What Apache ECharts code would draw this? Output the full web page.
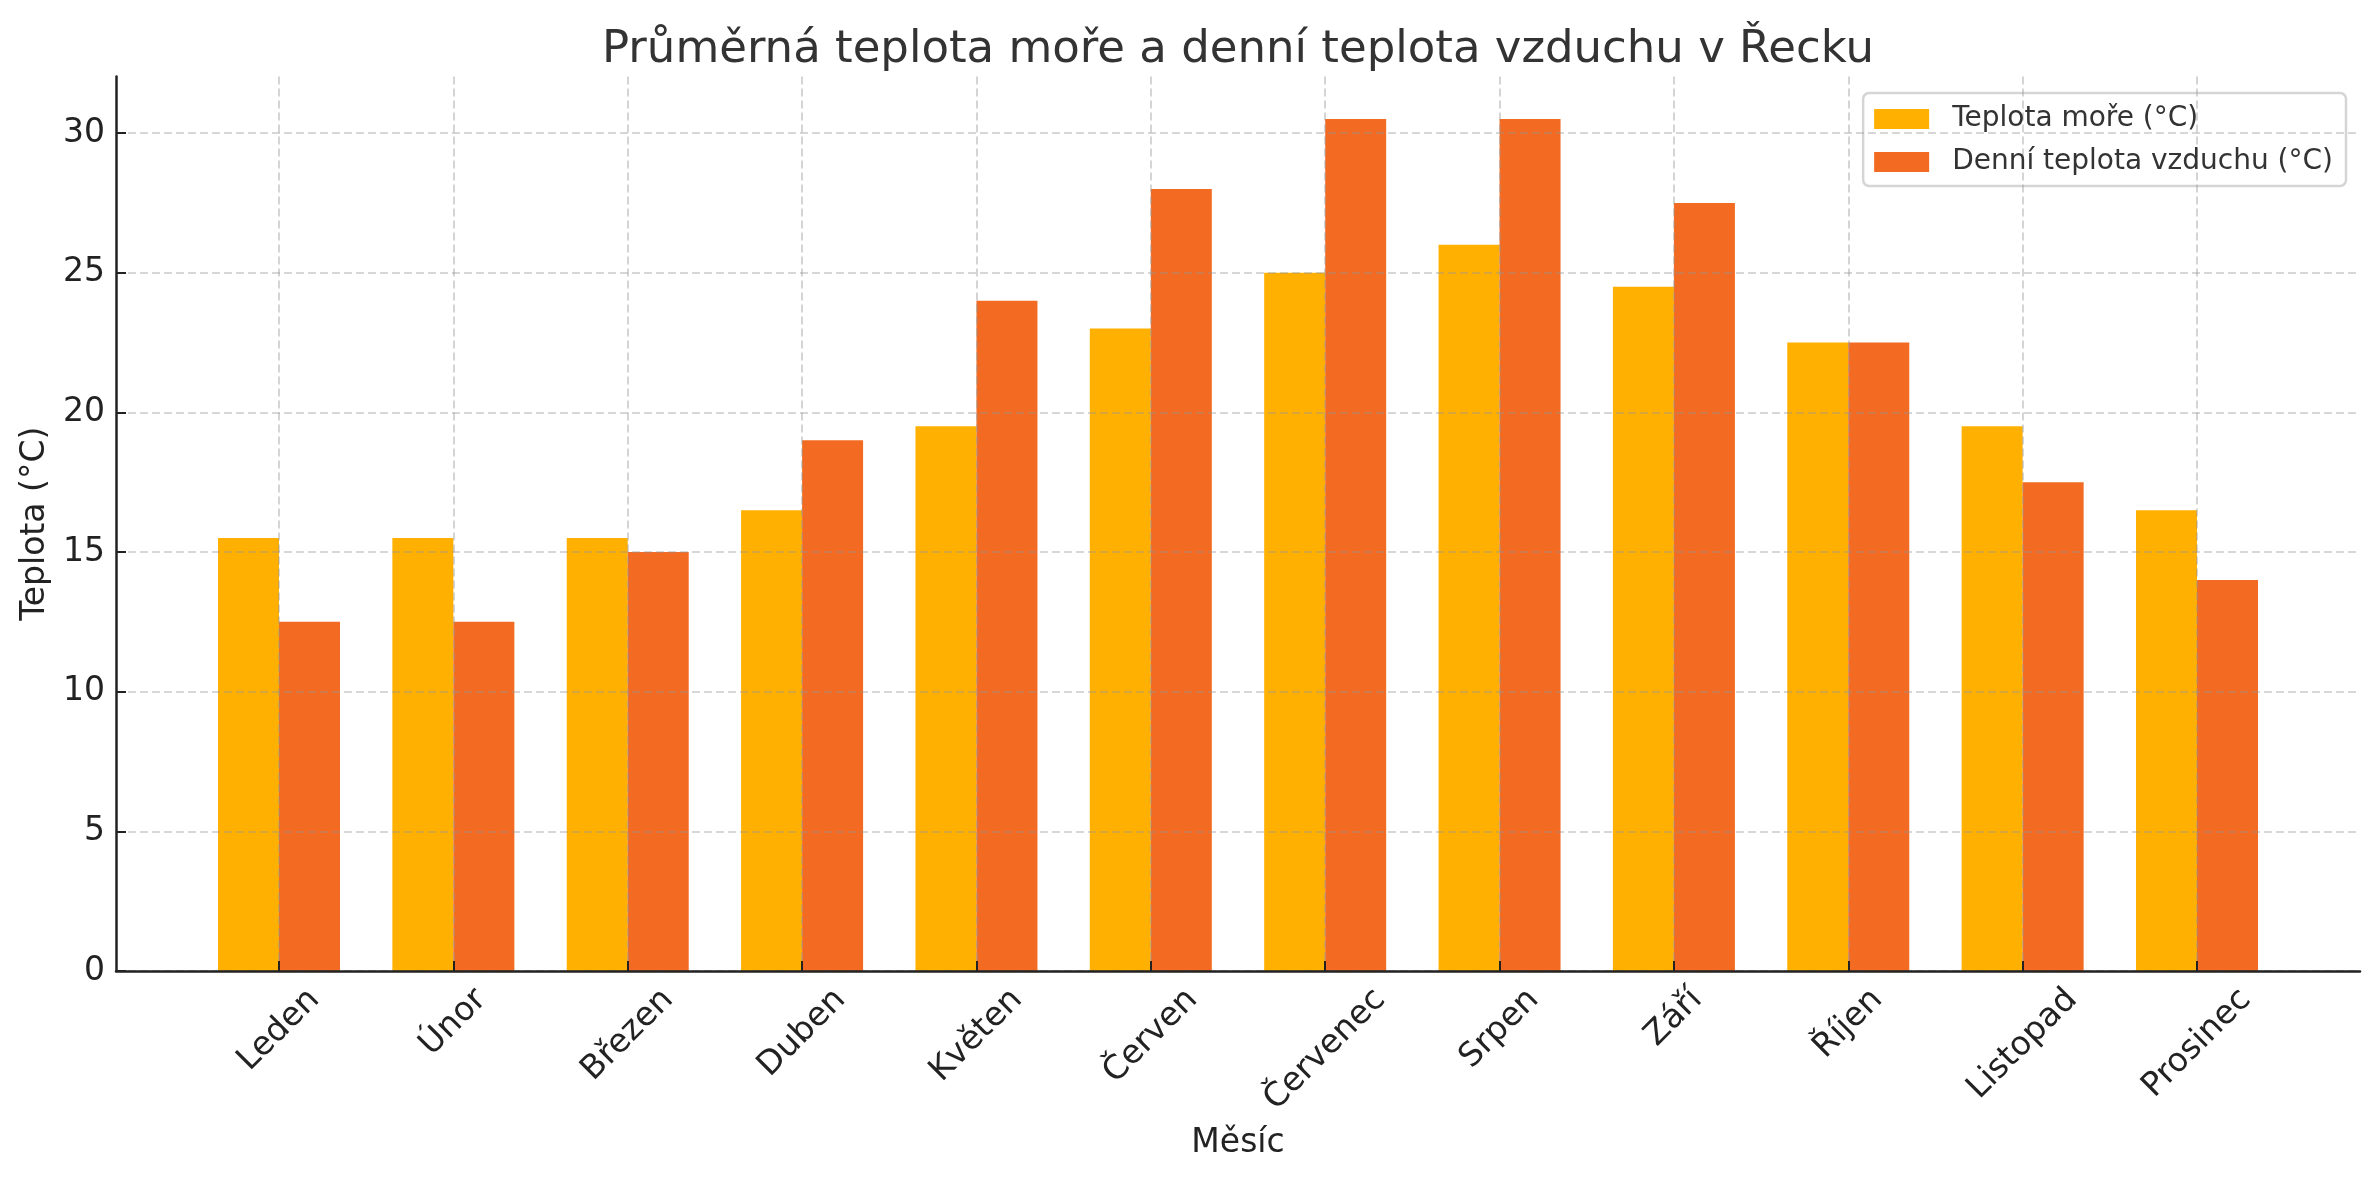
<!DOCTYPE html>
<html>
<head>
<meta charset="utf-8">
<script src="https://cdn.jsdelivr.net/npm/echarts@6/dist/echarts.min.js"></script>
<style>
    html, body { margin: 0; padding: 0; background: #fff; }
    #chart { width: 2379px; height: 1180px; }
</style>
</head>
<body>
<div id="chart"></div>
<script>
    // data
    var months = ['Leden', 'Únor', 'Březen', 'Duben', 'Květen', 'Červen',
                  'Červenec', 'Srpen', 'Září', 'Říjen', 'Listopad', 'Prosinec'];
    var seaTemp = [15.5, 15.5, 15.5, 16.5, 19.5, 23, 25, 26, 24.5, 22.5, 19.5, 16.5];
    var airTemp = [12.5, 12.5, 15, 19, 24, 28, 30.5, 30.5, 27.5, 22.5, 17.5, 14];
    var yTicks = [0, 5, 10, 15, 20, 25, 30];

    var font = 'DejaVu Sans';
    var tickSize = 33;
    var yMax = 32.025;
    var titleText = 'Průměrná teplota moře a denní teplota vzduchu v Řecku';

    // month labels: rotated 45deg, centred on the tick like matplotlib
    var ctx = document.createElement('canvas').getContext('2d');
    ctx.font = tickSize + 'px "' + font + '"';
    var rich = {};
    months.forEach(function (m, i) {
        var p = (ctx.measureText(m).width + 1.17 * tickSize) / 2;
        rich['m' + i] = {
            fontFamily: font, fontSize: tickSize, color: '#222',
            padding: [p, p, 0, 0]
        };
    });

    // title centred over the plot area, not the page
    ctx.font = '45px "' + font + '"';
    var titleLeft = (116 + 2360) / 2 - ctx.measureText(titleText).width / 2;

    var gridLine = { color: 'rgba(150,150,150,0.5)', width: 1.6, type: [8, 4] };
    var spine = { color: '#222', width: 2.5 };

    var myChart = echarts.init(document.getElementById('chart'));
    var option = {
        backgroundColor: '#fff',
        animation: false,
        title: {
            text: titleText,
            left: titleLeft,
            top: 28,
            padding: 0,
            textStyle: { fontFamily: font, fontSize: 45, fontWeight: 'normal', color: '#333' }
        },
        legend: {
            orient: 'vertical',
            right: 33,
            top: 93,
            padding: [11, 13, 9, 11],
            itemWidth: 55,
            itemHeight: 20,
            itemGap: 13,
            icon: 'rect',
            borderColor: '#d5d5d5',
            borderWidth: 2.5,
            borderRadius: 6,
            backgroundColor: 'rgba(255,255,255,0.8)',
            textStyle: { fontFamily: font, fontSize: 28, lineHeight: 30, color: '#333', padding: [0, 0, 0, 18] },
            data: ['Teplota moře (°C)', 'Denní teplota vzduchu (°C)']
        },
        grid: [
            { left: 116, right: 19, top: 76.5, bottom: 209 },
            { left: 279, right: 182, top: 76.5, bottom: 209 }
        ],
        xAxis: [
            {
                gridIndex: 0, type: 'value', min: 0, max: 1,
                name: 'Měsíc', nameLocation: 'middle', nameGap: 156,
                nameTextStyle: { fontFamily: font, fontSize: 33, color: '#222' },
                axisLine: { show: true, lineStyle: spine },
                axisTick: { show: false }, axisLabel: { show: false }, splitLine: { show: false },
                z: 4
            },
            {
                gridIndex: 1, type: 'category', data: months, boundaryGap: false,
                axisLine: { show: false },
                axisTick: { show: true, inside: true, length: 10, lineStyle: { color: '#222', width: 2 } },
                axisLabel: {
                    interval: 0, rotate: 45, margin: 10,
                    align: 'center', verticalAlign: 'middle',
                    formatter: function (v, i) { return '{m' + i + '|' + v + '}'; },
                    rich: rich
                },
                splitLine: { show: true, lineStyle: gridLine },
                z: 4
            }
        ],
        yAxis: [
            {
                gridIndex: 0, type: 'value', min: 0, max: yMax, interval: 5,
                name: 'Teplota (°C)', nameLocation: 'middle', nameGap: 64, nameRotate: 90,
                nameTextStyle: { fontFamily: font, fontSize: 33, color: '#222' },
                axisLine: { show: true, lineStyle: spine },
                axisTick: { show: true, inside: true, length: 10, customValues: yTicks, lineStyle: { color: '#222', width: 2 } },
                axisLabel: { fontFamily: font, fontSize: tickSize, color: '#222', margin: 11, customValues: yTicks },
                splitLine: { show: true, lineStyle: gridLine },
                z: 4
            },
            {
                gridIndex: 1, type: 'value', min: 0, max: yMax,
                axisLine: { show: false }, axisTick: { show: false },
                axisLabel: { show: false }, splitLine: { show: false }
            }
        ],
        series: [
            {
                name: 'Teplota moře (°C)', type: 'bar',
                xAxisIndex: 1, yAxisIndex: 1,
                data: seaTemp, barWidth: 61, barGap: '0%', clip: false,
                itemStyle: { color: '#FFB000' }
            },
            {
                name: 'Denní teplota vzduchu (°C)', type: 'bar',
                xAxisIndex: 1, yAxisIndex: 1,
                data: airTemp, barWidth: 61, barGap: '0%', clip: false,
                itemStyle: { color: '#F36B22' }
            }
        ]
    };
    myChart.setOption(option);
</script>
</body>
</html>
